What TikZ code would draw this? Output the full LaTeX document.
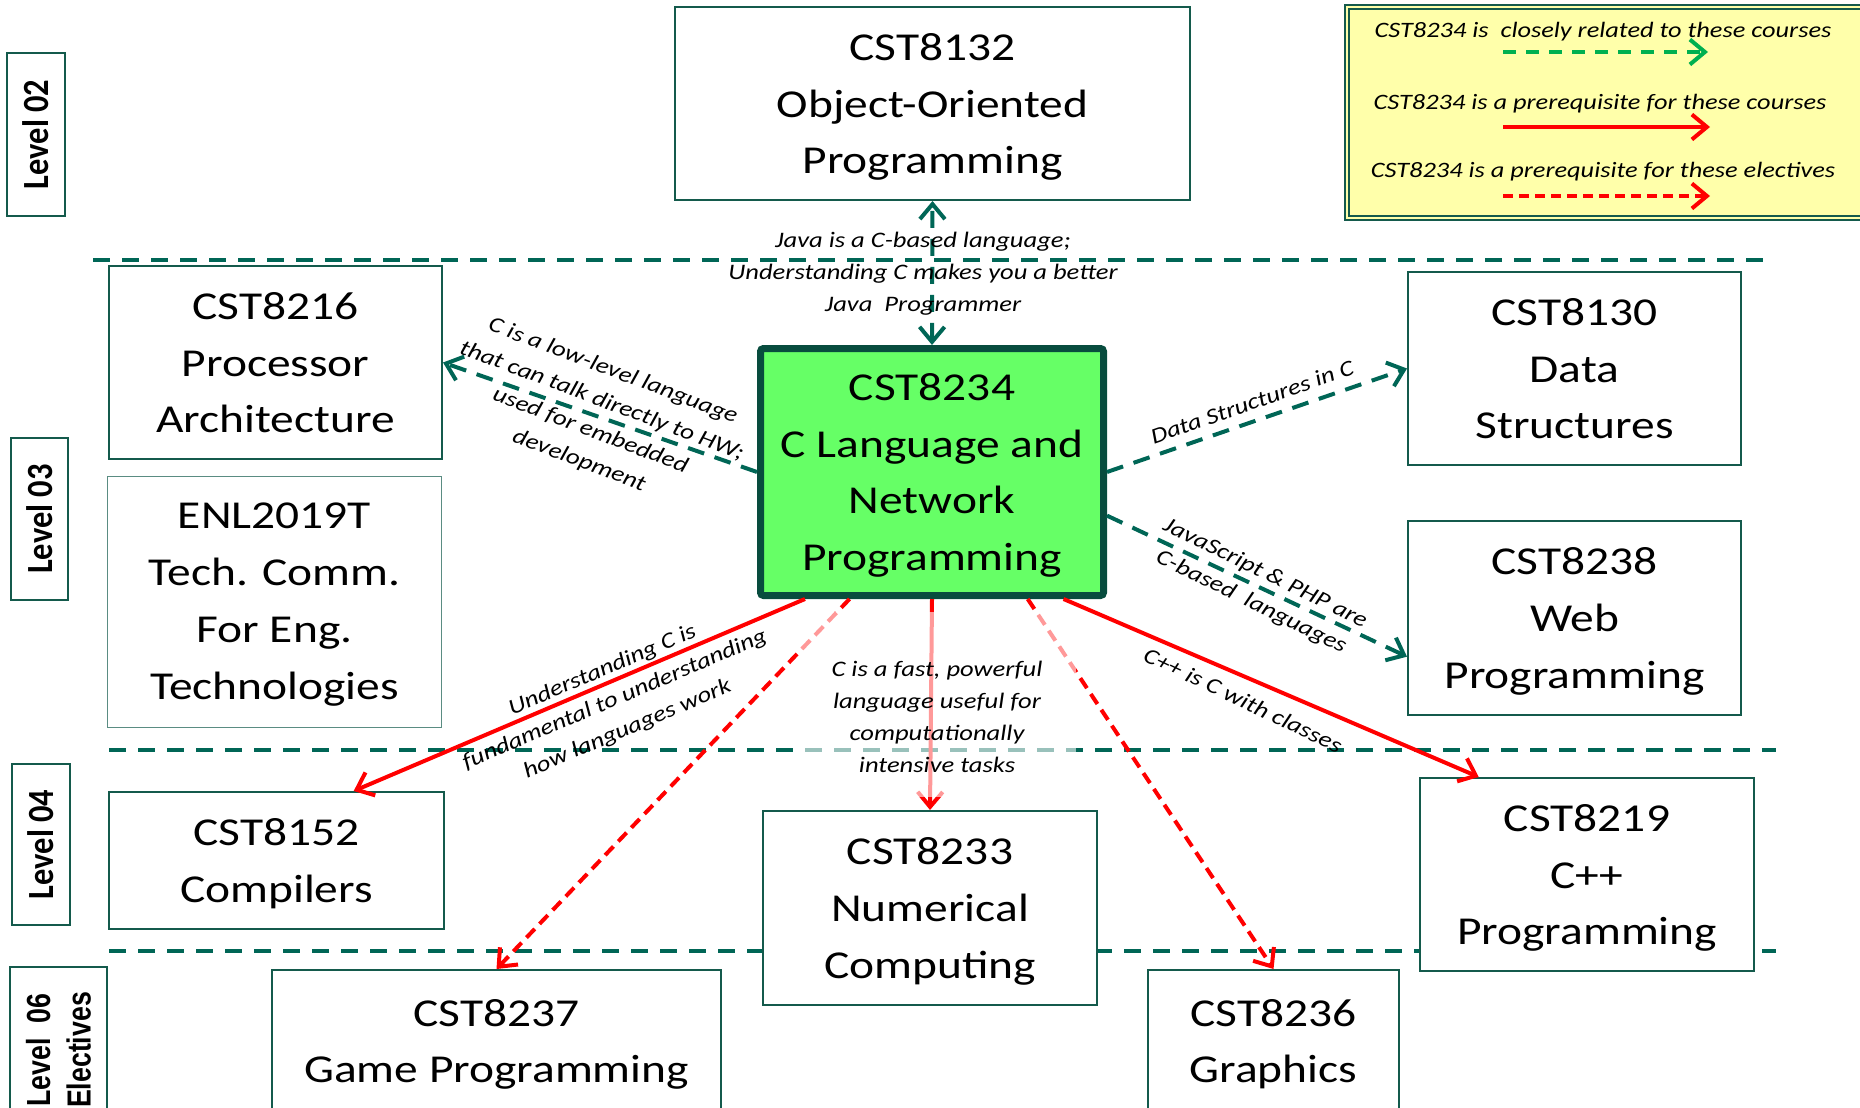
\documentclass[tikz,border=0pt]{standalone}
\usepackage{fontspec}
\setmainfont{Carlito}[FakeStretch=1.2]
\newfontfamily\levelfont{Carlito}[FakeStretch=0.88]
\newfontfamily\electfont{Liberation Sans}[FakeStretch=0.8]
\usetikzlibrary{arrows.meta}

\definecolor{linkteal}{RGB}{0,102,86}
\definecolor{boxteal}{RGB}{20,90,76}
\definecolor{thinteal}{RGB}{90,140,130}
\definecolor{coreteal}{RGB}{8,76,62}
\definecolor{coregreen}{RGB}{102,255,102}
\definecolor{notepad}{RGB}{255,255,170}
\definecolor{keygreen}{RGB}{0,176,80}
\definecolor{redline}{RGB}{255,0,0}

\begin{document}
\begin{tikzpicture}[x=0.2mm, y=-0.2mm,
    >={Straight Barb[length=3mm, width=5mm]},
    course/.style={draw=boxteal, line width=0.4mm, fill=white, align=center,
      inner sep=0pt, text depth=0pt, font=\fontsize{22.5}{32.4}\selectfont},
    level/.style={draw=boxteal, line width=0.4mm, fill=white, rotate=90,
      align=center, inner sep=0pt},
    note/.style={align=center, inner sep=0pt,
      font=\fontsize{12.6}{18.2}\selectfont\itshape},
    related/.style={draw=linkteal, line width=0.8mm, dash pattern=on 3.4mm off 2.2mm},
    required/.style={draw=redline, line width=0.8mm},
    elective/.style={required, dash pattern=on 2.4mm off 1.4mm},
    divider/.style={draw=linkteal, line width=0.8mm, dash pattern=on 3.4mm off 2.4mm}]
  \useasboundingbox (0,0) rectangle (1860,1107);
  \clip (0,0) rectangle (1860,1107);

  % level dividers
  \draw[divider] (93,260) -- (1763,260);
  \draw[divider] (109,750) -- (1776,750);
  \draw[divider] (109,951) -- (1776,951);

  % level markers
  \node[level, minimum width=32.6mm, minimum height=11.6mm,
    font=\levelfont\bfseries\fontsize{21}{21}\selectfont] (lv2) at (36,134.5) {Level 02};
  \node[level, minimum width=32.4mm, minimum height=11.4mm,
    font=\levelfont\bfseries\fontsize{21}{21}\selectfont] (lv3) at (39.5,519) {Level 03};
  \node[level, minimum width=32.2mm, minimum height=11.6mm,
    font=\levelfont\bfseries\fontsize{21}{21}\selectfont] (lv4) at (41,844.5) {Level 04};
  \node[level, minimum width=33.2mm, minimum height=19.4mm,
    font=\electfont\bfseries\fontsize{19}{23}\selectfont] (lv6) at (58.5,1050) {Level\ \ 06\\Electives};

  % courses
  \node[course, minimum width=103mm, minimum height=38.6mm] (oop) at (932.5,103.5)
    {CST8132\\Object-Oriented\\Programming};
  \node[course, minimum width=66.6mm, minimum height=38.6mm] (arch) at (275.5,362.5)
    {CST8216\\Processor\\Architecture};
  \node[course, draw=thinteal, line width=0.2mm, minimum width=66.6mm,
    minimum height=50.2mm] (enl) at (274.5,601.5)
    {ENL2019T\\Tech. Comm.\\For Eng.\\Technologies};
  \node[course, draw=coreteal, line width=1.4mm, fill=coregreen, rounded corners=0.6mm,
    minimum width=68.6mm, minimum height=49.4mm] (core) at (932,472)
    {CST8234\\C Language and\\Network\\Programming};
  \node[course, minimum width=66.6mm, minimum height=38.6mm] (ds) at (1574.5,368.5)
    {CST8130\\Data\\Structures};
  \node[course, minimum width=66.6mm, minimum height=38.8mm] (web) at (1574.5,618)
    {CST8238\\Web\\Programming};
  \node[course, minimum width=67mm, minimum height=27.4mm] (comp) at (276.5,860.5)
    {CST8152\\Compilers};
  \node[course, minimum width=66.8mm, minimum height=38.8mm] (num) at (930,908)
    {CST8233\\Numerical\\Computing};
  \node[course, minimum width=66.8mm, minimum height=38.6mm] (cpp) at (1587,874.5)
    {CST8219\\C++\\Programming};
  \node[course, minimum width=89.8mm, minimum height=28.4mm] (game) at (496.5,1041)
    {CST8237\\Game Programming};
  \node[course, minimum width=50.2mm, minimum height=28.4mm] (gfx) at (1273.5,1041)
    {CST8236\\Graphics};

  % legend
  \node[draw=boxteal, line width=0.3mm, double=notepad, double distance=0.5mm,
    fill=notepad, minimum width=112mm, minimum height=42.2mm] (key) at (1627,112.5) {};
  \node[note, font=\fontsize{12.5}{14}\selectfont\itshape] (keyrel) at (1603,32)
    {CST8234 is\ \ closely related to these courses};
  \node[note, font=\fontsize{12.5}{14}\selectfont\itshape] (keyreq) at (1600,104)
    {CST8234 is a prerequisite for these courses};
  \node[note, font=\fontsize{12.5}{14}\selectfont\itshape] (keyele) at (1603,172)
    {CST8234 is a prerequisite for these electives};
  \coordinate (rel-a) at (1503,52);
  \coordinate (rel-b) at (1708,52);
  \coordinate (req-a) at (1503,127);
  \coordinate (req-b) at (1710,127);
  \coordinate (ele-a) at (1503,196);
  \coordinate (ele-b) at (1710,196);
  \draw[->, draw=keygreen, line width=0.8mm, dash pattern=on 2.6mm off 2mm] (rel-a) -- (rel-b);
  \draw[->, required] (req-a) -- (req-b);
  \draw[->, required, dash pattern=on 2mm off 1.2mm] (ele-a) -- (ele-b);

  % links from CST8234
  \draw[related, <->] (core.north) -- (oop.south);
  \draw[related, ->] (core.west) -- (arch.east);
  \draw[related, ->] (core.east) -- (ds.west);
  \draw[related, ->] (core.-14) -- (web.193);
  \draw[required, ->] (core.-135) -- (comp.42);
  \draw[elective, ->] (core.-123) -- (game.north);
  \draw[required, ->] (core.south) -- (num.north);
  \draw[elective, ->] (core.-53) -- (gfx.north);
  \draw[required, ->] (core.-44) -- (cpp.138);

  % link notes
  \node[note] (javanote) at (923,274)
    {Java is a C-based language;\\Understanding C makes you a better\\Java\ \ Programmer};
  \node[note, rotate=-20.7] (hwnote) at (596,416)
    {C is a low-level language\\that can talk directly to HW;\\used for embedded\\development};
  \node[note, rotate=19.3] (dsnote) at (1252,402) {Data Structures in C};
  \node[note, rotate=-26] (webnote) at (1258,588)
    {JavaScript \& PHP are\\C-based\ \ languages};
  \node[note, rotate=23] (compnote) at (615,700)
    {Understanding C is\\fundamental to understanding\\how languages work};
  \fill[white, opacity=0.6] (800,612) rectangle (1076,797);
  \node[note] (numnote) at (937,717)
    {C is a fast, powerful\\language useful for\\computationally\\intensive tasks};
  \node[note, rotate=-25.5] (cppnote) at (1243,700) {C++ is C with classes};
\end{tikzpicture}
\end{document}
